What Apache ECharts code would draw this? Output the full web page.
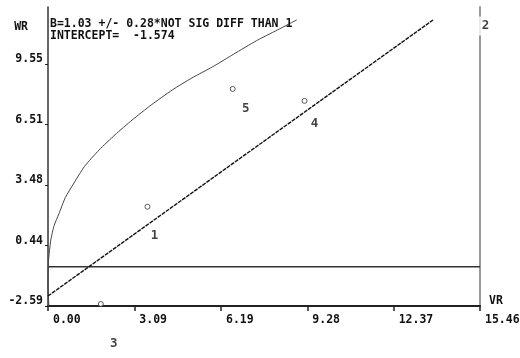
<!DOCTYPE html>
<html>
<head>
<meta charset="utf-8">
<script src="https://cdn.jsdelivr.net/npm/echarts@6/dist/echarts.min.js"></script>
<style>
html,body{margin:0;padding:0;background:#fff}
#chart{width:520px;height:358px}
</style>
</head>
<body>
<div id="chart"></div>
<script>
// axis ticks
var xTicks = [0.00, 3.09, 6.19, 9.28, 12.37, 15.46];
var yTicks = [-2.59, 0.44, 3.48, 6.51, 9.55];
var xMin = 0, xMax = 15.46;
var yMin = -2.59, yMax = 12.41;

// labelled points (2 sits off the top right corner)
var ptNames = ['1', '5', '4', '3', '2'];
var ptX = [3.56, 6.61, 9.18, 1.89, 15.46];
var ptY = [2.39, 8.30, 7.70, -2.49, 12.41];

// fitted line
var regX = [0, 13.78];
var regY = [-2.09, 11.76];

// upper curve
var bandX = [0.03, 0.00, 0.02, 0.10, 0.22, 0.39, 0.62, 0.93, 1.30, 1.83, 2.40, 3.01, 3.70, 4.45, 5.15, 5.88, 6.65, 7.46, 8.20, 8.90];
var bandY = [-2.59, -1.50, -0.30, 0.72, 1.45, 2.03, 2.85, 3.58, 4.40, 5.24, 6.00, 6.74, 7.50, 8.25, 8.85, 9.40, 10.05, 10.72, 11.25, 11.76];

// horizontal reference line
var refX = [0, 15.46];
var refY = [-0.62, -0.62];

var titleLines = ['B=1.03 +/- 0.28*NOT SIG DIFF THAN 1', 'INTERCEPT=  -1.574'];

function pairs(xs, ys) {
    var out = [];
    for (var i = 0; i < xs.length; i++) out.push([xs[i], ys[i]]);
    return out;
}

var mono = 'DejaVu Sans Mono';

// label nudges, by point name
var nudge = { '1': [7, 29], '5': [13, 20], '4': [10, 23], '3': [13, 40] };

var ptData = [];
for (var i = 0; i < ptNames.length; i++) {
    var item = { name: ptNames[i], value: [ptX[i], ptY[i]] };
    if (nudge[ptNames[i]]) {
        item.label = { offset: nudge[ptNames[i]] };
    } else {
        // point off the chart: just the label, blanking the frame behind it
        item.symbolSize = 0;
        item.label = {
            offset: [5, 19],
            backgroundColor: '#fff',
            padding: [5, 3, 1, 4]
        };
    }
    ptData.push(item);
}

var chart = echarts.init(document.getElementById('chart'));
var option = {
    animation: false,
    backgroundColor: '#fff',
    title: {
        text: titleLines.join('\n'),
        left: 50,
        top: 18,
        padding: 0,
        textStyle: { fontFamily: mono, fontWeight: 'bold', fontSize: 11.5, color: '#111', lineHeight: 12 }
    },
    grid: { left: 48, right: 40, top: 7, bottom: 52, containLabel: false, outerBoundsMode: 'none' },
    xAxis: {
        type: 'value',
        min: xMin,
        max: xMax,
        name: 'VR',
        nameLocation: 'end',
        nameGap: 9,
        nameTextStyle: { fontFamily: mono, fontWeight: 'bold', fontSize: 11.5, color: '#111', align: 'left', verticalAlign: 'bottom', lineHeight: 10 },
        splitLine: { show: false },
        axisLine: { show: true, onZero: false, lineStyle: { color: '#222', width: 2 } },
        axisTick: { show: true, length: 5, customValues: xTicks, lineStyle: { color: '#222', width: 1.5 } },
        axisLabel: {
            customValues: xTicks,
            formatter: function (v) { return v.toFixed(2); },
            align: 'left',
            padding: [0, 0, 0, 5],
            margin: 8,
            fontFamily: mono, fontWeight: 'bold', fontSize: 11.5, color: '#111'
        }
    },
    yAxis: [{
        type: 'value',
        min: yMin,
        max: yMax,
        name: 'WR',
        nameLocation: 'end',
        nameGap: -20,
        nameTextStyle: { fontFamily: mono, fontWeight: 'bold', fontSize: 11.5, color: '#111', align: 'right', verticalAlign: 'middle', padding: [0, 20, 0, 0] },
        splitLine: { show: false },
        axisLine: { show: true, onZero: false, lineStyle: { color: '#333', width: 1.5 } },
        axisTick: { show: true, length: 3, customValues: yTicks, lineStyle: { color: '#222' } },
        axisLabel: {
            customValues: yTicks,
            formatter: function (v) { return v.toFixed(2); },
            margin: 5,
            verticalAlign: 'bottom',
            lineHeight: 10,
            fontFamily: mono, fontWeight: 'bold', fontSize: 11.5, color: '#111'
        }
    }, {
        type: 'value',
        position: 'right',
        min: yMin,
        max: yMax,
        splitLine: { show: false },
        axisLine: { show: true, onZero: false, lineStyle: { color: '#999', width: 2 } },
        axisTick: { show: false },
        axisLabel: { show: false }
    }],
    series: [{
        name: 'ref',
        type: 'line',
        data: pairs(refX, refY),
        symbol: 'none',
        lineStyle: { color: '#333', width: 1.5 },
        z: 2
    }, {
        name: 'band',
        type: 'line',
        data: pairs(bandX, bandY),
        symbol: 'none',
        smooth: 0.2,
        lineStyle: { color: '#444', width: 1 },
        z: 2
    }, {
        name: 'fit',
        type: 'line',
        data: pairs(regX, regY),
        symbol: 'none',
        lineStyle: { color: '#111', width: 1.4, type: [4, 1] },
        z: 2
    }, {
        name: 'pts',
        type: 'scatter',
        data: ptData,
        symbol: 'circle',
        symbolSize: 5,
        itemStyle: { color: '#fff', borderColor: '#333', borderWidth: 1 },
        label: {
            show: true,
            position: 'inside',
            formatter: '{b}',
            fontFamily: mono, fontWeight: 'bold', fontSize: 12.5, color: '#111'
        },
        z: 5
    }]
};
chart.setOption(option);
</script>
</body>
</html>
